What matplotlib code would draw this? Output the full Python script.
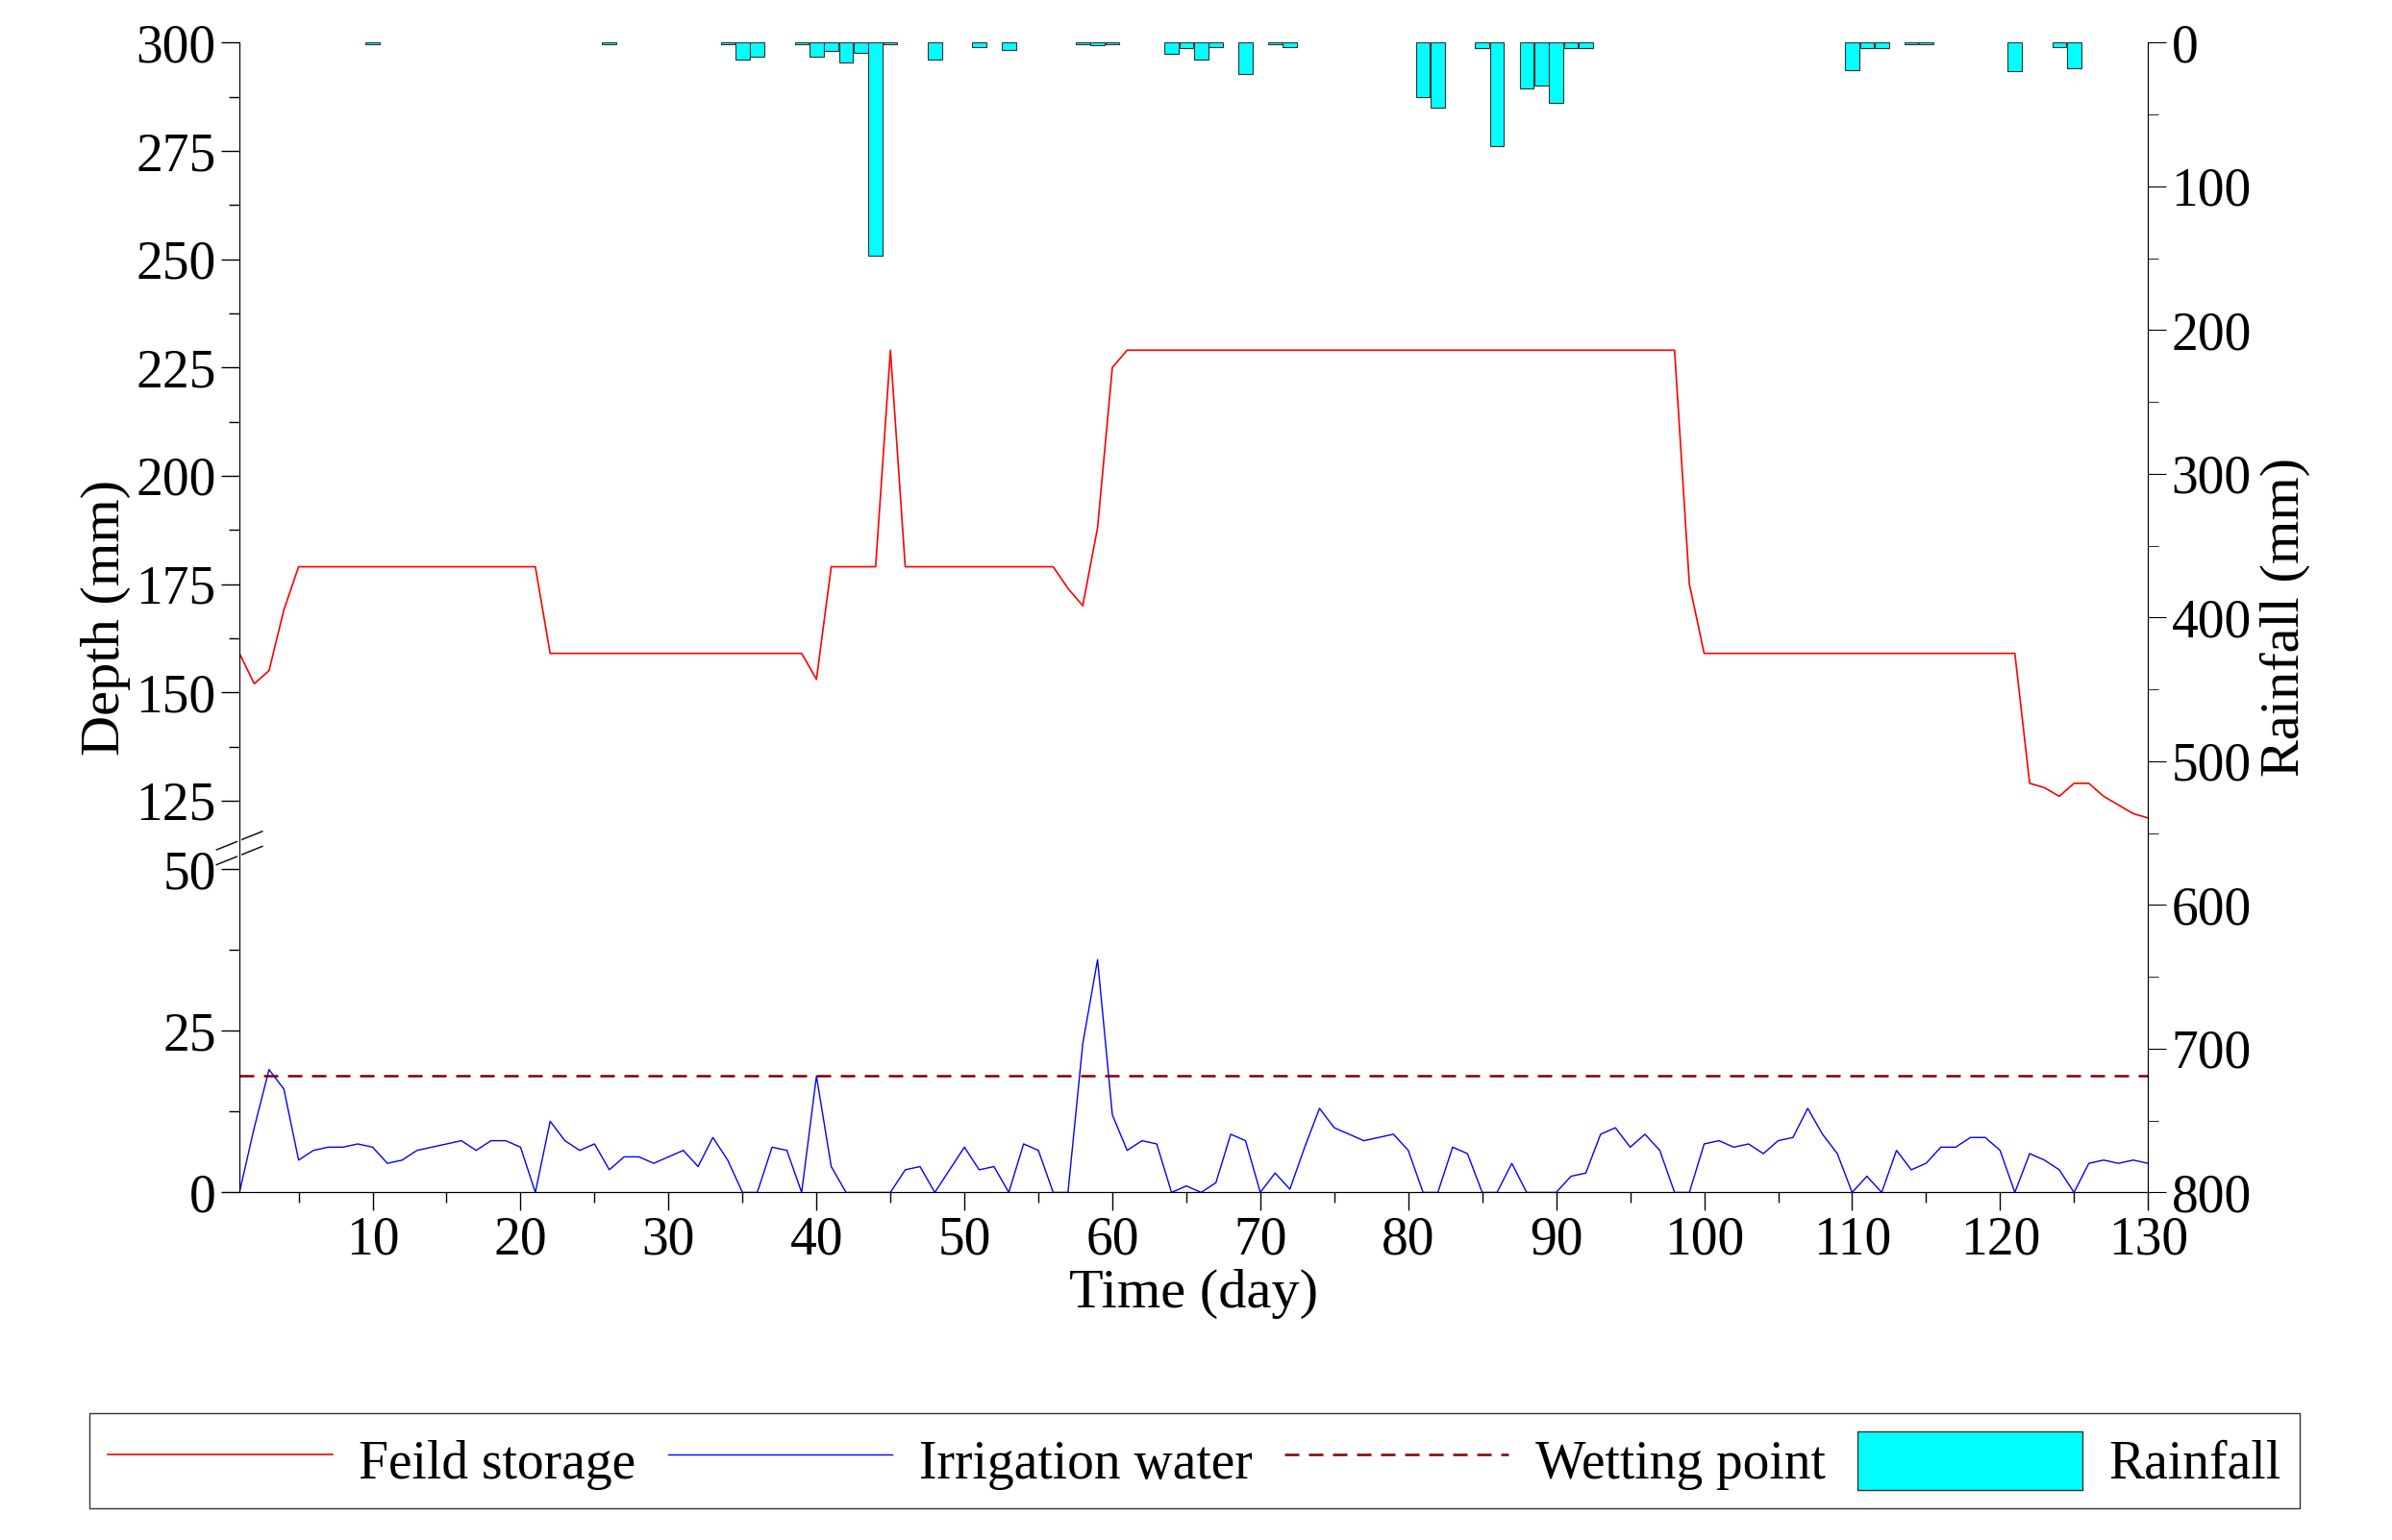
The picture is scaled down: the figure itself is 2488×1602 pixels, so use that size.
import numpy as np
import matplotlib
matplotlib.use("Agg")
import matplotlib.pyplot as plt
from matplotlib.lines import Line2D
from matplotlib.patches import Patch

days = np.arange(1, 131)
storage_pts_day = [1,2,3,4,5,21,22,39,40,41,44,45,46,56,57,58,59,60,61,98,99,100,121,122,123,124,125,126,127,128,129,130]
storage_pts_val = [159,152,155,169,179,179,159,159,153,179,179,229,179,179,174,170,188,225,229,229,175,159,159,129,128,126,129,129,126,124,122,121]
irrigation = [0,10,19,16,5,6.5,7,7,7.5,7,4.5,5,6.5,7,7.5,8,6.5,8,8,7,
              0,11,8,6.5,7.5,3.5,5.5,5.5,4.5,5.5,6.5,4,8.5,5,0,0,7,6.5,0,18,
              4,0,0,0,0,3.5,4,0,3.5,7,3.5,4,0,7.5,6.5,0,0,23,36,12,
              6.5,8,7.5,0,1,0,1.5,9,8,0,3,0.5,7,13,10,9,8,8.5,9,6.5,
              0,0,7,6,0,0,4.5,0,0,0,2.5,3,9,10,7,9,6.5,0,0,7.5,
              8,7,7.5,6,8,8.5,13,9,6,0,2.5,0,6.5,3.5,4.5,7,7,8.5,8.5,6.5,
              0,6,5,3.5,0,4.5,5,4.5,5,4.5]
wetting_point = 18
rain_days = [10,26,34,35,36,39,40,41,42,43,44,45,48,51,53,58,59,60,64,65,66,67,69,71,72,81,82,85,86,88,89,90,91,92,110,111,112,114,115,121,124,125]
rain_vals = [1,1,1,12,10,1,10,6,14,7,148,1,12,3,5,1,2,1,8,4,12,3,22,1,3,38,45,4,72,32,30,42,4,4,19,4,4,1,1,20,3,18]

storage = np.interp(days, storage_pts_day, storage_pts_val)

plt.rcParams["font.family"] = "Liberation Serif"
fig = plt.figure(figsize=(24.88, 16.02), dpi=100)
ax = fig.add_axes([0.1001, 0.2257, 0.7979, 0.7466])

vp = [0, 50, 120.8, 300]
fp = [0, 212/754, 245/754, 1]
fwd = lambda y: np.interp(y, vp, fp)
inv = lambda f: np.interp(f, fp, vp)
ax.set_yscale("function", functions=(fwd, inv))
ax.set_ylim(0, 300)
ax.set_xlim(1, 130)

ax.plot(days, storage, color="red", lw=1.2)
ax.plot(days, irrigation, color="blue", lw=1.0)
ax.axhline(wetting_point, color="#800000", ls=(0, (6, 4)), lw=1.8)

major = [0, 25, 50, 125, 150, 175, 200, 225, 250, 275, 300]
minor = [12.5, 37.5, 137.5, 162.5, 187.5, 212.5, 237.5, 262.5, 287.5]
ax.set_yticks(major)
ax.set_yticks(minor, minor=True)
ax.set_xticks(np.arange(10, 131, 10))
ax.set_xticks(np.arange(5, 131, 5), minor=True)
ax.tick_params(axis="both", which="major", length=14, width=1, labelsize=40, direction="out")
ax.tick_params(axis="both", which="minor", length=8, width=1)
ax.spines["top"].set_visible(False)
ax.set_ylabel("Depth (mm)", fontsize=42, labelpad=4)
ax.set_xlabel("Time (day)", fontsize=42, labelpad=2)

for yy in [0.293, 0.306]:
    ax.plot([-0.012, 0.012], [yy - 0.008, yy + 0.008], transform=ax.transAxes, color="black", lw=1, clip_on=False)
ax.plot([0, 0], [0.29, 0.309], transform=ax.transAxes, color="white", lw=3, clip_on=False, zorder=5)

ax2 = ax.twinx()
ax2.bar(rain_days, rain_vals, width=0.95, color="cyan", edgecolor="#333333", lw=0.8)
ax2.set_ylim(800, 0)
ax2.set_yticks(np.arange(0, 801, 100))
ax2.set_yticks(np.arange(50, 800, 100), minor=True)
ax2.tick_params(axis="y", which="major", length=14, labelsize=40)
ax2.tick_params(axis="y", which="minor", length=8)
ax2.spines["top"].set_visible(False)
ax2.set_ylabel("Rainfall (mm)", fontsize=42, labelpad=6)

handles = [Line2D([], [], color="red", lw=1.2), Line2D([], [], color="blue", lw=1.0),
           Line2D([], [], color="#800000", ls=(0, (6, 4)), lw=1.8),
           Patch(facecolor="cyan", edgecolor="#333333")]
labels = ["Feild storage", "Irrigation water", "Wetting point", "Rainfall"]
leg = fig.legend(handles, labels, loc="center", bbox_to_anchor=(0.4994, 0.0515), ncol=4,
                 fontsize=40, frameon=True, fancybox=False, edgecolor="black",
                 handlelength=4.2, handleheight=1.3, columnspacing=0.6, handletextpad=0.5,
                 borderpad=0.35)
leg.get_frame().set_linewidth(1)
fig.savefig("out.png", dpi=100)
